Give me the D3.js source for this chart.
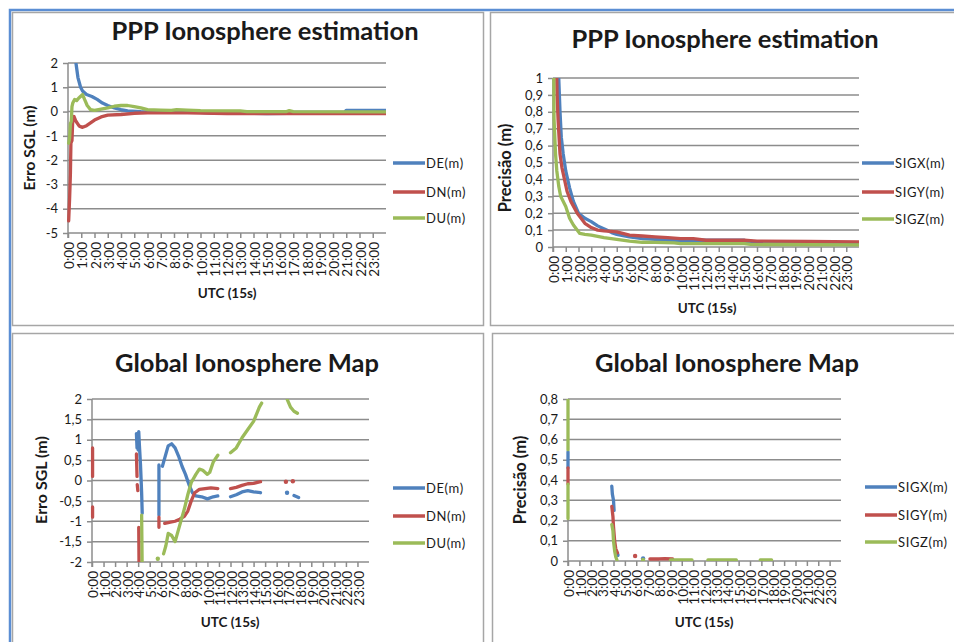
<!DOCTYPE html>
<html>
<head>
<meta charset="utf-8">
<script src="https://cdn.jsdelivr.net/npm/d3@7"></script>
<style>
  body { margin: 0; background: #fff; }
  svg { display: block; }
  text { font-family: Lato, "Open Sans", sans-serif; fill: #1a1a1a; }
</style>
</head>
<body>
<svg id="chart" width="954" height="642"></svg>
<script>
// category axis: one label per hour (UTC, 15s epochs)
const hourTicks = d3.range(0, 24);
const hourLabels = hourTicks.map(h => h + ":00");

// ---- PPP Ionosphere estimation: position error [hour, metres] ----
const pppDE = [[0.5, 2.8], [0.6, 2.0], [0.75, 1.4], [0.95, 1.0], [1.1, 0.85], [1.4, 0.7], [1.8, 0.62],
  [2.2, 0.5], [2.6, 0.35], [3.0, 0.25], [3.5, 0.15], [4.0, 0.08], [4.5, 0.03], [5.5, 0.0], [8.0, -0.02],
  [10.0, -0.03], [11.0, -0.06], [13.0, -0.07], [15.0, -0.08], [16.6, -0.07], [17.0, -0.03], [20.9, -0.02],
  [21.0, 0.05], [24.0, 0.05]];
const pppDN = [[0.05, -4.5], [0.12, -3.6], [0.18, -2.6], [0.22, -1.3], [0.3, -1.2], [0.36, -0.3],
  [0.45, -0.2], [0.6, -0.4], [0.85, -0.6], [1.1, -0.65], [1.4, -0.58], [2.0, -0.35], [2.5, -0.22],
  [3.0, -0.15], [4.0, -0.12], [5.0, -0.07], [6.0, -0.05], [9.0, -0.05], [12.0, -0.08], [16.0, -0.08],
  [20.0, -0.08], [24.0, -0.08]];
const pppDU = [[0.05, -1.3], [0.12, -1.1], [0.18, -0.5], [0.25, -0.4], [0.3, 0.2], [0.36, 0.35],
  [0.5, 0.5], [0.65, 0.45], [0.8, 0.55], [1.0, 0.65], [1.1, 0.7], [1.25, 0.5], [1.45, 0.25],
  [1.7, 0.08], [2.0, 0.05], [2.5, 0.1], [3.0, 0.15], [3.5, 0.22], [4.0, 0.25], [4.5, 0.25], [5.0, 0.2],
  [5.5, 0.15], [6.0, 0.08], [7.0, 0.06], [7.8, 0.05], [8.2, 0.08], [9.0, 0.06], [10.0, 0.04],
  [13.0, 0.03], [13.5, 0.0], [16.5, 0.0], [16.7, 0.04], [17.0, 0.0], [24.0, -0.01]];

// ---- PPP Ionosphere estimation: precision [hour, metres] ----
const pppSIGX = [[0.4, 1.2], [0.45, 1.0], [0.55, 0.8], [0.65, 0.65], [0.8, 0.55], [1.0, 0.45],
  [1.3, 0.35], [1.6, 0.27], [2.0, 0.2], [2.5, 0.17], [3.0, 0.15], [3.5, 0.125], [4.2, 0.1], [4.6, 0.085],
  [5.0, 0.075], [6.0, 0.06], [7.0, 0.05], [8.0, 0.045], [9.0, 0.04], [12.0, 0.04], [15.0, 0.04],
  [15.2, 0.03], [19.8, 0.03], [20.0, 0.02], [24.0, 0.02]];
const pppSIGY = [[0.25, 1.2], [0.32, 0.9], [0.4, 0.75], [0.55, 0.55], [0.7, 0.47], [0.9, 0.4],
  [1.1, 0.33], [1.4, 0.27], [1.9, 0.2], [2.5, 0.14], [3.0, 0.115], [3.5, 0.1], [4.0, 0.095],
  [5.0, 0.09], [6.0, 0.07], [7.0, 0.065], [8.0, 0.06], [9.0, 0.055], [10.0, 0.05], [11.0, 0.05],
  [12.0, 0.04], [15.0, 0.04], [16.0, 0.035], [20.0, 0.033], [24.0, 0.03]];
const pppSIGZ = [[0.05, 1.2], [0.08, 0.76], [0.2, 0.55], [0.3, 0.45], [0.45, 0.36], [0.6, 0.3],
  [1.0, 0.24], [1.3, 0.17], [1.6, 0.13], [2.1, 0.08], [2.5, 0.075], [3.0, 0.07], [4.0, 0.055],
  [5.0, 0.045], [6.0, 0.035], [7.0, 0.028], [8.0, 0.027], [9.5, 0.025], [10.0, 0.02], [15.0, 0.02],
  [15.5, 0.015], [24.0, 0.012]];

// ---- Global Ionosphere Map: position error (null = gap) ----
const gimDE = [[3.85, 1.15], [3.9, 0.8], [3.95, 1.1], [4.0, 0.75], [4.05, 1.2], [4.1, 0.9], [4.2, 0.4],
  [4.3, -0.3], [4.35, -0.8], null,
  [5.8, 0.38], [5.8, -0.85], null,
  [6.1, 0.35], [6.3, 0.55], [6.6, 0.85], [6.9, 0.9], [7.2, 0.8], [7.5, 0.6], [7.8, 0.35], [8.1, 0.15],
  [8.4, -0.1], [8.7, -0.3], [9.0, -0.38], [9.5, -0.4], [10.0, -0.45], [10.5, -0.4], [10.9, -0.38], null,
  [12.0, -0.4], [12.5, -0.35], [13.0, -0.28], [13.5, -0.25], [14.0, -0.28], [14.6, -0.3], null,
  [16.9, -0.3], null,
  [17.5, -0.37], [17.9, -0.42]];
const gimDN = [[0.05, 0.8], [0.05, 0.1], null,
  [0.05, -0.65], [0.05, -0.9], null,
  [3.85, 0.65], [3.9, 0.1], null,
  [3.92, -0.1], [3.97, -0.25], null,
  [4.05, -1.15], [4.08, -2.2], null,
  [5.8, -0.9], [5.8, -1.15], null,
  [6.3, -1.05], [6.8, -1.02], [7.2, -1.0], [7.6, -0.95], [8.0, -0.88], [8.3, -0.75], [8.6, -0.5],
  [8.9, -0.3], [9.3, -0.22], [9.8, -0.2], [10.3, -0.18], [10.9, -0.2], null,
  [12.0, -0.2], [12.5, -0.17], [13.0, -0.12], [13.5, -0.08], [14.0, -0.07], [14.6, -0.03], null,
  [16.8, -0.03], null,
  [17.4, -0.02]];
const gimDU = [[4.3, -0.85], [4.35, -2.2], null,
  [5.7, -1.92], null,
  [6.2, -1.8], [6.4, -1.6], [6.6, -1.3], [6.9, -1.35], [7.2, -1.5], [7.5, -1.2], [7.8, -0.9],
  [8.0, -0.7], [8.3, -0.35], [8.6, -0.05], [9.0, 0.15], [9.3, 0.28], [9.6, 0.25], [10.0, 0.15],
  [10.2, 0.2], [10.5, 0.45], [10.9, 0.62], null,
  [12.0, 0.68], [12.5, 0.8], [13.0, 1.05], [13.5, 1.25], [14.0, 1.45], [14.5, 1.8], [14.7, 1.9], null,
  [16.9, 2.0], [17.2, 1.8], [17.5, 1.7], [17.8, 1.65]];

// ---- Global Ionosphere Map: precision ----
const gimSIGX = [[0, 0.54], [0, 0.46], null,
  [3.85, 0.37], [3.9, 0.33], [4.0, 0.3], [4.05, 0.25], null,
  [4.35, 0.03], null,
  [6.6, 0.012]];
const gimSIGY = [[0, 0.46], [0, 0.38], null,
  [3.85, 0.27], [3.95, 0.22], [4.0, 0.17], [4.1, 0.1], [4.2, 0.06], [4.35, 0.04], null,
  [5.9, 0.025], null,
  [7.2, 0.01], [8.0, 0.01], [8.5, 0.012], [9.2, 0.01]];
const gimSIGZ = [[0, 0.8], [0, 0.55], null,
  [0, 0.38], [0, 0.21], null,
  [3.85, 0.18], [3.95, 0.15], [4.0, 0.1], [4.1, 0.05], [4.2, 0.02], [4.3, 0.005], null,
  [6.6, 0.005], null,
  [9.0, 0.005], [10.9, 0.005], null,
  [12.3, 0.005], [14.8, 0.005], null,
  [16.9, 0.005], [17.9, 0.005]];

const errTicks = d3.range(-5, 3);
const precTicks = d3.range(0, 11).map(i => i / 10);
const gimErrTicks = d3.range(-4, 5).map(i => i / 2);
const gimPrecTicks = d3.range(0, 9).map(i => i / 10);

const errNames = ["DE(m)", "DN(m)", "DU(m)"];
const sigNames = ["SIGX(m)", "SIGY(m)", "SIGZ(m)"];
const colors = ["#4f81bd", "#c0504d", "#9bbb59"];

const fmt = d => String(+d.toFixed(1)).replace(".", ",");

const panels = [
  { frame: [12, 12, 483, 325], plot: [68, 386, 63, 233], ticks: errTicks,
    title: "PPP Ionosphere estimation", titleX: 265, titleY: 40,
    yTitle: "Erro SGL (m)", yTitleX: 35, yTitleY: 148, yTitleSize: 15.5,
    xTitleX: 227, xTitleY: 298, legX: 393, legY: [163, 192, 218],
    names: errNames, series: [pppDE, pppDN, pppDU] },
  { frame: [490, 12, 958, 325], plot: [553, 859, 78, 247], ticks: precTicks,
    title: "PPP Ionosphere estimation", titleX: 725, titleY: 48,
    yTitle: "Precisão (m)", yTitleX: 511, yTitleY: 168, yTitleSize: 16.5,
    xTitleX: 707, xTitleY: 313, legX: 862, legY: [163, 192, 219],
    names: sigNames, series: [pppSIGX, pppSIGY, pppSIGZ] },
  { frame: [12, 333, 483, 646], plot: [92, 369, 399, 562], ticks: gimErrTicks,
    title: "Global Ionosphere Map", titleX: 247, titleY: 372,
    yTitle: "Erro SGL (m)", yTitleX: 47, yTitleY: 480, yTitleSize: 16,
    xTitleX: 230, xTitleY: 627, legX: 393, legY: [488, 516, 543],
    names: errNames, series: [gimDE, gimDN, gimDU] },
  { frame: [492, 333, 958, 646], plot: [568, 841, 399, 561], ticks: gimPrecTicks,
    title: "Global Ionosphere Map", titleX: 727, titleY: 372,
    yTitle: "Precisão (m)", yTitleX: 526, yTitleY: 480, yTitleSize: 16.5,
    xTitleX: 704, xTitleY: 627, legX: 865, legY: [487, 515, 542],
    names: sigNames, series: [gimSIGX, gimSIGY, gimSIGZ] }
];

const svg = d3.select("#chart");
const gridColor = "#8c8c8c";

// outer blue selection frame
svg.append("path")
  .attr("d", "M10,642V10H954")
  .attr("fill", "none")
  .attr("stroke", "#5b8ed4")
  .attr("stroke-width", 2.5);

panels.forEach((p, i) => {
  const [fx0, fy0, fx1, fy1] = p.frame;
  const [x0, x1, yTop, yBot] = p.plot;
  const g = svg.append("g");

  g.append("rect")
    .attr("x", fx0 + 0.5).attr("y", fy0 + 0.5)
    .attr("width", fx1 - fx0).attr("height", fy1 - fy0)
    .attr("fill", "#fff")
    .attr("stroke", "#a6a6a6")
    .attr("stroke-width", 1.5);

  const x = d3.scaleLinear().domain([0, 24]).range([x0, x1]);
  const y = d3.scaleLinear().domain(d3.extent(p.ticks)).range([yBot, yTop]);

  // horizontal gridlines
  g.append("g")
    .selectAll("line")
    .data(p.ticks.slice(1))
    .join("line")
    .attr("x1", x0).attr("x2", x1)
    .attr("y1", d => y(d)).attr("y2", d => y(d))
    .attr("stroke", gridColor)
    .attr("stroke-width", 1.5);

  // y axis
  const yAxis = d3.axisLeft(y).tickValues(p.ticks).tickSize(5).tickPadding(5).tickFormat(fmt);
  const ya = g.append("g").attr("transform", `translate(${x0},0)`).call(yAxis);
  ya.select(".domain").remove();
  ya.append("line").attr("x1", 0).attr("x2", 0).attr("y1", yTop).attr("y2", yBot + 5)
    .attr("stroke", gridColor).attr("stroke-width", 1.5);
  ya.selectAll(".tick line").attr("stroke", gridColor).attr("stroke-width", 1.5);
  ya.selectAll(".tick text").attr("font-size", 13).attr("fill", "#1a1a1a").attr("font-family", null);

  // x axis (category labels every hour, rotated)
  const xAxis = d3.axisBottom(x).tickValues(hourTicks).tickSize(5).tickFormat((d, k) => hourLabels[k]);
  const xa = g.append("g").attr("transform", `translate(0,${yBot})`).call(xAxis);
  xa.select(".domain").remove();
  xa.append("line").attr("x1", x0).attr("x2", x1).attr("y1", 0).attr("y2", 0)
    .attr("stroke", gridColor).attr("stroke-width", 1.5);
  xa.selectAll(".tick line").attr("stroke", gridColor).attr("stroke-width", 1.5);
  xa.selectAll(".tick text")
    .attr("font-size", 13.5).attr("fill", "#1a1a1a").attr("font-family", null)
    .attr("text-anchor", "end")
    .attr("transform", "translate(1,9) rotate(-90)")
    .attr("x", 0).attr("y", 0).attr("dy", "0.35em");

  // series, clipped to plot area
  const clipId = "clip" + i;
  g.append("clipPath").attr("id", clipId)
    .append("rect").attr("x", x0 - 3).attr("y", yTop).attr("width", x1 - x0 + 3).attr("height", yBot - yTop);

  const line = d3.line()
    .defined(d => d !== null)
    .x(d => x(d[0]))
    .y(d => y(d[1]));

  const plotG = g.append("g").attr("clip-path", `url(#${clipId})`);
  p.series.forEach((s, k) => {
    plotG.append("path")
      .datum(s)
      .attr("d", line)
      .attr("fill", "none")
      .attr("stroke", colors[k])
      .attr("stroke-width", 3.3)
      .attr("stroke-linejoin", "round")
      .attr("stroke-linecap", "round");
    // isolated epochs have no neighbours to draw a segment to
    const lone = s.filter((d, j) => d && !s[j - 1] && !s[j + 1]);
    plotG.append("g").selectAll("circle")
      .data(lone)
      .join("circle")
      .attr("cx", d => x(d[0]))
      .attr("cy", d => y(d[1]))
      .attr("r", 2.2)
      .attr("fill", colors[k]);
  });

  // titles
  g.append("text")
    .attr("x", p.titleX).attr("y", p.titleY)
    .attr("text-anchor", "middle")
    .attr("font-size", 25.5).attr("font-weight", "bold")
    .text(p.title);
  g.append("text")
    .attr("transform", `translate(${p.yTitleX},${p.yTitleY}) rotate(-90)`)
    .attr("text-anchor", "middle")
    .attr("font-size", p.yTitleSize).attr("font-weight", "bold")
    .text(p.yTitle);
  g.append("text")
    .attr("x", p.xTitleX).attr("y", p.xTitleY)
    .attr("text-anchor", "middle")
    .attr("font-size", 13.5).attr("font-weight", "bold")
    .text("UTC (15s)");

  // legend
  const leg = g.append("g").selectAll("g")
    .data(p.names)
    .join("g")
    .attr("transform", (d, k) => `translate(${p.legX},${p.legY[k]})`);
  leg.append("line")
    .attr("x1", 0).attr("x2", 32)
    .attr("stroke", (d, k) => colors[k])
    .attr("stroke-width", 3.5);
  leg.append("text")
    .attr("x", 33).attr("dy", "0.35em")
    .attr("font-size", 13).attr("letter-spacing", 0.6)
    .text(d => d);
});
</script>
</body>
</html>
